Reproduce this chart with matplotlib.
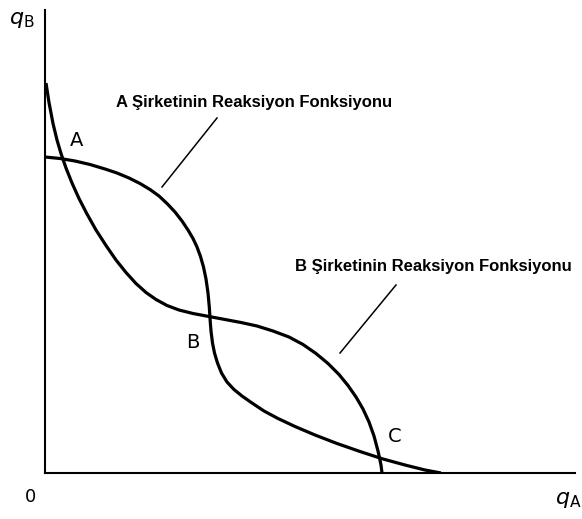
import matplotlib.pyplot as plt

# Reaction function of firm A (flat near the q_B axis, bends down through B to C)
react_a_x = [0, 15, 30, 45, 60, 72, 84, 95, 105, 114, 122, 130, 137, 143, 148, 152, 155.5, 158.5, 161, 163,
             164.3, 165.2, 166, 167.5, 169.5, 172.5, 176.5, 182, 189, 197, 207, 219, 233, 250, 270, 292,
             315, 338, 360, 380, 396]
react_a_y = [316, 314.5, 312, 308.5, 304, 300, 295, 289.5, 283.5, 277, 269.5, 261, 252, 243, 234.5, 226, 216.5,
             206, 194, 180, 166, 152, 142, 130, 120, 110, 100, 91, 83.5, 77, 70, 62, 54.5, 46.5, 38, 29.5,
             21.5, 14, 8, 3, 0]

# Reaction function of firm B (steep near the q_B axis, flattens through B, drops to C)
react_b_x = [1, 4, 8, 12, 16, 21, 27, 34, 42, 51, 61, 71, 81, 91, 101, 111, 122, 134, 148, 164, 180,
             196, 212, 228, 244, 258, 271, 283, 294, 303, 311, 318, 324, 329, 333, 336, 337]
react_b_y = [390, 370.5, 349.5, 333, 319.5, 305, 290, 274.5, 259, 243, 227.5, 213, 200.5, 189.5, 180.5,
             173.5, 167.5, 163, 159.5, 156.5, 153.5, 150.5, 147, 142, 136, 128.5, 119.5, 109.5, 98.5, 87.5,
             76, 64, 51, 37, 22, 8, 0]

# equilibrium labels
eq_labels = ['A', 'B', 'C']
eq_x = [32, 148, 350]
eq_y = [333, 130, 36]

W, H = 582, 519
plt.rcParams['mathtext.fontset'] = 'dejavusans'
fig = plt.figure(figsize=(W / 100, H / 100), dpi=100)
ax = fig.add_axes([45 / W, 46 / H, 530 / W, 463 / H])
ax.set_xlim(0, 530)
ax.set_ylim(0, 463)

ax.plot(react_a_x, react_a_y, color='black', linewidth=2.3, solid_capstyle='butt', solid_joinstyle='round')
ax.plot(react_b_x, react_b_y, color='black', linewidth=2.3, solid_capstyle='butt', solid_joinstyle='round')

for lab, x, y in zip(eq_labels, eq_x, eq_y):
    ax.text(x, y, lab, fontsize=14, ha='center', va='center', family='DejaVu Sans')

# annotation texts with pointer lines
ax.text(71, 371, 'A Şirketinin Reaksiyon Fonksiyonu', fontsize=12, fontweight='bold',
        family='Liberation Sans', ha='left', va='center', clip_on=False)
ax.plot([172, 117], [355, 286], color='black', linewidth=1.1)
ax.text(250, 206, 'B Şirketinin Reaksiyon Fonksiyonu', fontsize=12, fontweight='bold',
        family='Liberation Sans', ha='left', va='center', clip_on=False)
ax.plot([351, 295], [188, 120], color='black', linewidth=1.1)

# axis labels
ax.text(-23, 453, r'$q_{\mathrm{B}}$', fontsize=16, ha='center', va='center', clip_on=False)
ax.text(510, -27, r'$q_{\mathrm{A}}$', fontsize=16, ha='left', va='center', clip_on=False)
ax.text(-15, -24, '0', fontsize=13, ha='center', va='center', clip_on=False)

ax.spines['top'].set_visible(False)
ax.spines['right'].set_visible(False)
ax.spines['left'].set_linewidth(1.5)
ax.spines['bottom'].set_linewidth(1.5)
ax.set_xticks([])
ax.set_yticks([])

fig.savefig('out.png', dpi=100)
